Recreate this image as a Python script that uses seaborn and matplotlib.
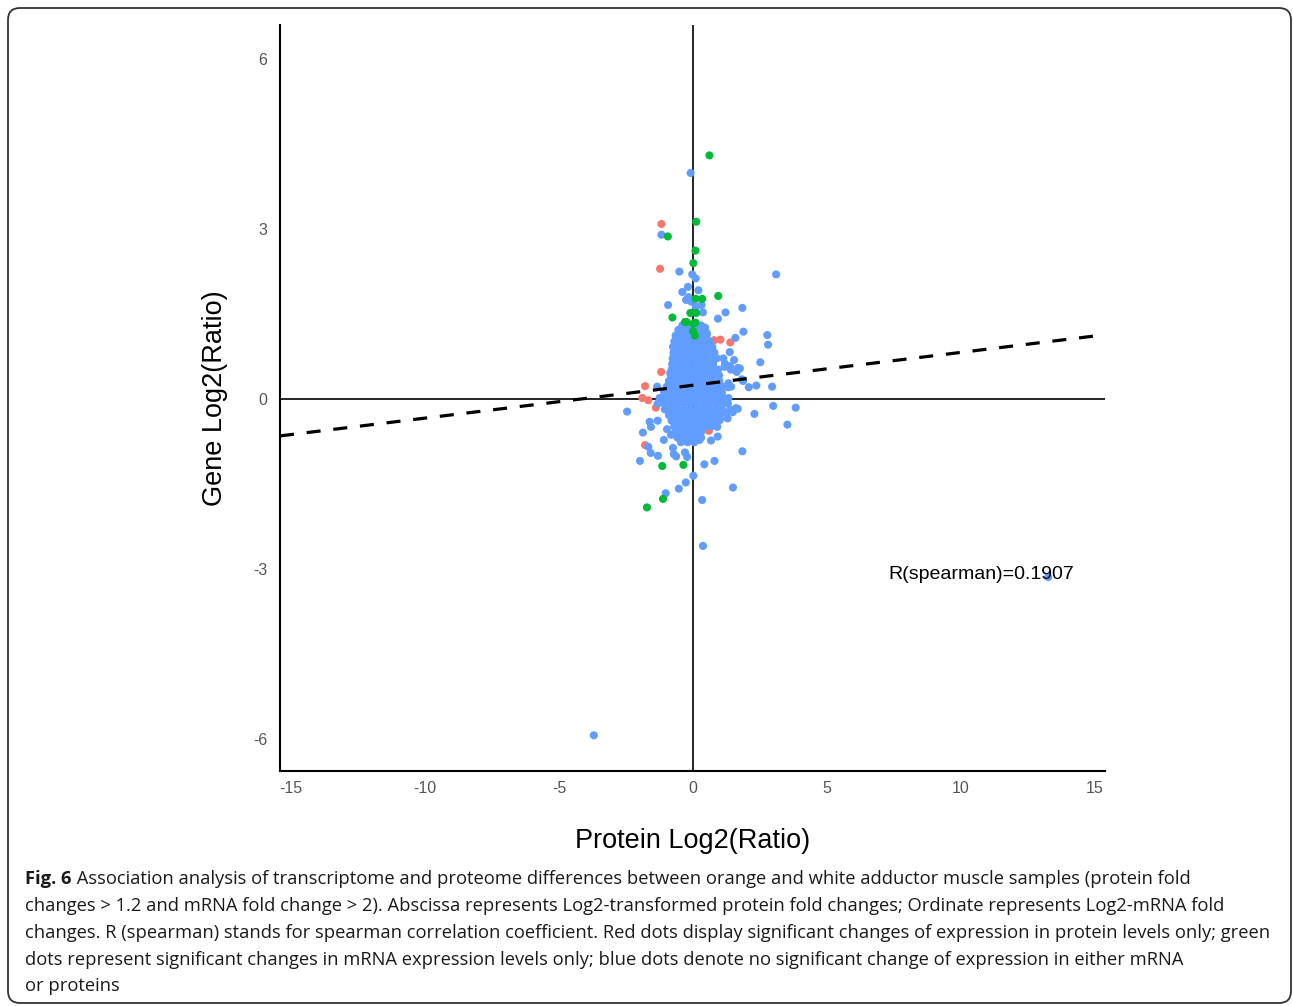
import numpy as np
import pandas as pd
import matplotlib
matplotlib.use("Agg")
import matplotlib.pyplot as plt
import seaborn as sns
from matplotlib.patches import FancyBboxPatch

# ---------------- data ----------------
red_x = [-1.18, -1.23, 1.02, 1.39, 0.79, -1.19, -1.79, -1.89, -1.67, -1.39,
         1.00, 0.59, -1.79, 1.00, 1.00]
red_y = [3.09, 2.30, 1.05, 1.00, 1.04, 0.48, 0.23, 0.02, -0.02, -0.15,
         -0.34, -0.56, -0.81, 0.21, 0.04]

green_x = [0.61, 0.12, -0.94, 0.09, 0.01, 0.10, 0.34, 0.94, -0.10, 0.12,
           -0.77, -0.24, 0.09, -0.30, 0.01, 0.00, 0.07,
           -1.15, -0.36, -1.12, -1.72]
green_y = [4.30, 3.13, 2.87, 2.62, 2.40, 1.77, 1.77, 1.82, 1.52, 1.52,
           1.44, 1.36, 1.35, 1.36, 1.33, 1.20, 1.12,
           -1.18, -1.16, -1.76, -1.91]

# scattered blue points
blue_out_x = [-0.09, -1.18, -0.51, -0.03, 0.10, 3.10, -0.19, 0.20, -0.40, -0.17,
              -0.26, -0.07, 0.32, 0.11, -0.93, 1.84, 1.21, 0.37, 0.93, 1.88,
              2.77, 2.80, -0.34, 0.45, 0.52, 1.58, 1.37, 2.51, 1.13, 1.19,
              1.17, 1.41, 1.67, -0.85, 1.87, 2.08, 2.36, 2.95, 1.42, -1.34,
              -2.46, 2.99, 3.83, 2.29, 1.60, 1.42, 1.67, 1.48, 1.29, 3.52,
              0.90, 0.92, -1.62, -1.57, -1.32, -1.87, -0.97, -0.82, -1.09, -1.67,
              -1.58, -1.31, -1.98, -0.75, -0.72, -0.63, -0.30, -0.22, 0.24, 0.67,
              1.84, 0.80, 0.42, 0.01, -0.27, -0.53, 1.49, -1.02, 0.34, 0.37,
              -3.70, 13.25, 1.53, 1.38, 1.75, 1.63, 1.82, 1.32, -0.79, 1.31,
              0.88, 0.88, 1.00, 1.25, 1.38, -0.36, -0.11, 0.32, 0.45, -0.55]
blue_out_y = [3.99, 2.90, 2.25, 2.20, 2.13, 2.20, 1.98, 1.92, 1.89, 1.80,
              1.75, 1.72, 1.66, 1.63, 1.66, 1.61, 1.53, 1.53, 1.42, 1.19,
              1.13, 0.96, 1.26, 1.26, 1.16, 1.08, 0.83, 0.65, 0.72, 0.63,
              0.57, 0.52, 0.55, 0.46, 0.32, 0.21, 0.24, 0.22, 0.22, 0.22,
              -0.22, -0.12, -0.15, -0.26, -0.16, -0.19, -0.17, -0.23, -0.34, -0.45,
              -0.49, -0.66, -0.40, -0.49, -0.38, -0.59, -0.53, -0.63, -0.72, -0.84,
              -0.95, -1.00, -1.09, -0.86, -0.97, -1.01, -0.94, -1.02, -0.72, -0.73,
              -0.92, -1.09, -1.15, -1.35, -1.47, -1.58, -1.56, -1.66, -1.78, -2.59,
              -5.93, -3.14, 0.69, 0.58, 0.54, 0.48, 0.35, 0.28, 0.34, 0.21,
              0.28, -0.46, -0.37, -0.25, -0.19, 1.25, 1.19, 1.22, 1.13, 1.07]

# dense blue core near the origin
blue_core_x = [
    -0.40, -0.20, 0.05, 0.30,
    -0.55, -0.30, -0.05, 0.20, 0.45,
    -0.65, -0.42, -0.20, 0.05, 0.28, 0.50,
    -0.70, -0.48, -0.25, -0.02, 0.22, 0.45, 0.62,
    -0.75, -0.55, -0.35, -0.12, 0.10, 0.30, 0.52, 0.72,
    -0.73, -0.52, -0.30, -0.10, 0.12, 0.35, 0.58, 0.80,
    -0.76, -0.55, -0.33, -0.12, 0.08, 0.30, 0.52, 0.72, 0.88,
    -0.78, -0.56, -0.35, -0.13, 0.10, 0.32, 0.55, 0.75,
    -0.80, -0.58, -0.36, -0.15, 0.07, 0.28, 0.50, 0.72, 0.93,
    -0.83, -0.60, -0.38, -0.16, 0.05, 0.27, 0.50, 0.73, 0.97,
    -0.90, -0.66, -0.42, -0.20, 0.03, 0.25, 0.48, 0.72, 0.98,
    -0.98, -0.74, -0.50, -0.26, -0.02, 0.22, 0.46, 0.70, 0.92, 1.10,
    -1.08, -0.84, -0.60, -0.36, -0.12, 0.12, 0.36, 0.60, 0.84, 1.08,
    -1.25, -1.02, -0.78, -0.54, -0.30, -0.06, 0.18, 0.42, 0.66, 0.90, 1.14, 1.32,
    -1.32, -1.08, -0.84, -0.60, -0.36, -0.12, 0.12, 0.36, 0.60, 0.84, 1.08, 1.30,
    -1.05, -0.82, -0.58, -0.34, -0.10, 0.14, 0.38, 0.62, 0.86, 1.08,
    -0.90, -0.66, -0.42, -0.18, 0.06, 0.30, 0.54, 0.78, 1.00,
    -0.80, -0.56, -0.32, -0.08, 0.16, 0.40, 0.64, 0.84,
    -0.70, -0.46, -0.22, 0.02, 0.26, 0.50, 0.68,
    -0.66, -0.42, -0.18, 0.06, 0.30,
    -0.58, -0.35, -0.12, 0.10, 0.30,
    -0.45, -0.20, 0.05]
blue_core_y = (
    [1.30] * 4 + [1.22] * 5 + [1.12] * 6 + [1.02] * 7 + [0.92] * 8 +
    [0.82] * 8 + [0.72] * 9 + [0.62] * 8 + [0.52] * 9 + [0.42] * 9 +
    [0.32] * 9 + [0.22] * 10 + [0.12] * 10 + [0.02] * 12 + [-0.08] * 12 +
    [-0.18] * 10 + [-0.28] * 9 + [-0.38] * 8 + [-0.48] * 7 + [-0.58] * 5 +
    [-0.68] * 5 + [-0.76] * 3)

fit_slope = 0.058
fit_intercept = 0.245
r_text = "R(spearman)=0.1907"

x_ticks = [-15, -10, -5, 0, 5, 10, 15]
y_ticks = [-6, -3, 0, 3, 6]

palette = {"protein": "#F8766D", "none": "#619CFF", "mrna": "#00BA38"}

caption_bold = "Fig. 6"
caption_lines = [
    " Association analysis of transcriptome and proteome differences between orange and white adductor muscle samples (protein fold",
    "changes > 1.2 and mRNA fold change > 2). Abscissa represents Log2-transformed protein fold changes; Ordinate represents Log2-mRNA fold",
    "changes. R (spearman) stands for spearman correlation coefficient. Red dots display significant changes of expression in protein levels only; green",
    "dots represent significant changes in mRNA expression levels only; blue dots denote no significant change of expression in either mRNA",
    "or proteins",
]

# ---------------- build table ----------------
df = pd.concat([
    pd.DataFrame({"x": red_x, "y": red_y, "grp": "protein"}),
    pd.DataFrame({"x": blue_core_x + blue_out_x, "y": blue_core_y + blue_out_y, "grp": "none"}),
    pd.DataFrame({"x": green_x, "y": green_y, "grp": "mrna"}),
], ignore_index=True)

# ---------------- figure ----------------
sns.set_style("white")
plt.rcParams["font.family"] = ["Liberation Sans", "DejaVu Sans"]
plt.rcParams["axes.unicode_minus"] = False

W, H = 1293, 1006
fig = plt.figure(figsize=(W / 100, H / 100), dpi=100)
ax = fig.add_axes([280 / W, 1 - 771 / H, (1105 - 280) / W, (771 - 25) / H])

ax.axhline(0, color="black", lw=1.2, zorder=1)
ax.axvline(0, color="black", lw=1.2, zorder=1)

sns.scatterplot(data=df, x="x", y="y", hue="grp", palette=palette, s=34,
                linewidth=0, legend=False, ax=ax, zorder=2)

ax.axline((0, fit_intercept), slope=fit_slope, color="black", lw=2.3,
          ls=(0, (4.4, 4.0)), zorder=3)

ax.set_xlim(-15.41, 15.37)
ax.set_ylim(-6.56, 6.6)
ax.set_xticks(x_ticks)
ax.set_yticks(y_ticks)
ax.tick_params(axis="x", length=0, labelsize=11.5, labelcolor="#555555", pad=7)
ax.tick_params(axis="y", length=0, labelsize=11.5, labelcolor="#555555", pad=9)
for s in ["top", "right"]:
    ax.spines[s].set_visible(False)
for s in ["left", "bottom"]:
    ax.spines[s].set_color("black")
    ax.spines[s].set_linewidth(1.5)

ax.set_xlabel("Protein Log2(Ratio)", fontsize=19.5, labelpad=23, color="black")
ax.set_ylabel("Gene Log2(Ratio)", fontsize=19.5, labelpad=18, color="black")

ax.text(7.28, -3.1, r_text, fontsize=14, va="center", ha="left", color="black", zorder=4)

# rounded border
box = FancyBboxPatch((0.08, 0.03), 12.83, 9.95,
                     boxstyle="round,pad=0,rounding_size=0.12",
                     transform=fig.dpi_scale_trans, fill=False,
                     edgecolor="#333333", lw=1.3)
fig.patches.append(box)

# caption
cap_font = ["Open Sans", "DejaVu Sans"]
cap_size = 13.2
x0 = 25 / W
line_y = [879, 906, 933, 960, 986]
tb = fig.text(x0, 1 - line_y[0] / H, caption_bold, fontsize=cap_size, family=cap_font,
              fontweight="bold", va="center", ha="left", color="#1a1a1a")
fig.canvas.draw()
bb = tb.get_window_extent()
fig.text(bb.x1 / W, 1 - line_y[0] / H, caption_lines[0], fontsize=cap_size,
         family=cap_font, va="center", ha="left", color="#1a1a1a")
for ln, yy in zip(caption_lines[1:], line_y[1:]):
    fig.text(x0, 1 - yy / H, ln, fontsize=cap_size, family=cap_font,
             va="center", ha="left", color="#1a1a1a")

fig.savefig("out.png", dpi=100)
